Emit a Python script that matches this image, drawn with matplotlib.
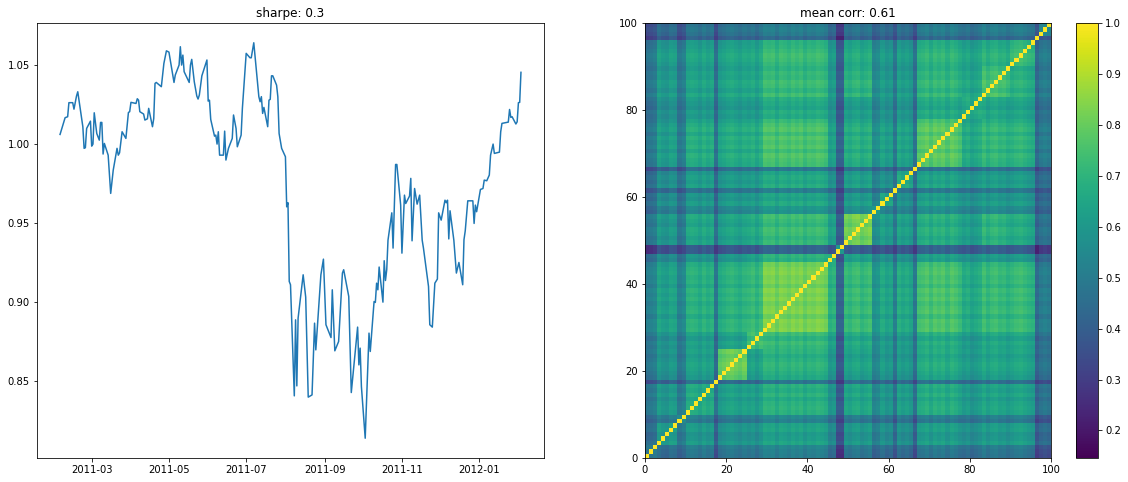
import numpy as np
import pandas as pd
import matplotlib
matplotlib.use("Agg")
import matplotlib.pyplot as plt
import matplotlib.dates as mdates

# --- line chart: days after 2011-03-01, and portfolio value
start_date = "2011-03-01"
days = [-25,-21,-19,-18,-15,-14,-12,-11,-7,-6,-5,-4,-1,0,1,2,4,6,7,8,9,10,13,15,17,20,21,22,24,27,
        29,30,31,35,36,37,38,41,42,44,45,48,49,50,51,55,57,59,61,65,66,69,70,71,72,73,77,78,79,81,
        83,84,85,87,91,92,93,94,97,98,99,100,101,104,105,106,108,111,112,114,115,118,119,122,125,126,128,132,133,134,
        135,136,139,140,141,142,143,146,147,148,150,153,154,155,156,157,160,161,162,163,167,169,171,174,176,177,181,183,185,189,
        190,192,195,198,199,203,205,210,211,212,213,216,219,220,223,224,225,226,227,230,231,232,233,234,237,238,240,241,244,245,
        247,248,251,252,253,255,257,259,261,262,266,267,269,271,273,274,276,279,280,281,282,283,286,288,290,293,294,295,297,301,
        302,303,304,307,309,310,312,314,315,317,318,322,323,324,329,330,331,332,335,336,337,338,339]
values = [1.0061,1.0167,1.0173,1.0262,1.0262,1.0221,1.0304,1.0331,1.011,.9973,.9977,1.0099,1.0145,.9987,1.000,1.0198,1.0067,1.0025,1.0137,1.0137,.9937,1.0004,.993,.9688,.9835,.9973,.993,.9945,1.0078,1.0036,
          1.020,1.0205,1.0264,1.0257,1.0287,1.0278,1.0205,1.019,1.0152,1.016,1.0226,1.011,1.0162,1.0384,1.039,1.0363,1.051,1.059,1.0582,1.039,1.0437,1.05,1.0616,1.05,1.0563,1.0458,1.039,1.05,1.0536,1.0395,
          1.0304,1.0285,1.031,1.0432,1.0532,1.0272,1.0278,1.0156,1.005,1.0057,1.000,1.0078,.993,.993,1.0082,.9899,.9973,1.0036,1.0184,1.0099,.9983,1.0057,1.0226,1.0574,1.0546,1.0546,1.0641,1.03,1.0268,1.03,
          1.0194,1.0232,1.011,1.0278,1.0283,1.0432,1.0432,1.0373,1.03,1.0067,.9973,.992,.9603,.9629,.9131,.911,.8407,.8888,.847,.8899,.9173,.9032,.8399,.8413,.8867,.8698,.9173,.9272,.8857,.8776,
          .9078,.8692,.8751,.9184,.9205,.9036,.8428,.8842,.8603,.8709,.8466,.8139,.8804,.8688,.9004,.8998,.912,.9078,.9222,.90,.9262,.9137,.9205,.9392,.9565,.9342,.9871,.9871,.9614,.931,
          .9677,.9624,.9671,.9783,.9388,.9719,.962,.9677,.9392,.9342,.9099,.8857,.8842,.912,.9146,.9565,.9519,.9645,.9629,.9645,.94,.9578,.9392,.9184,.9251,.911,.9395,.9451,.9641,.9641,
          .9498,.9614,.9572,.9713,.9719,.9772,.9768,.9804,.993,1.0,.9941,.9949,1.0078,1.0131,1.0139,1.0219,1.0169,1.0173,1.0127,1.0141,1.0262,1.0264,1.0454]
sharpe_title = "sharpe: 0.3"

corr_title = "mean corr: 0.61"
band_edges = [0,3,8,10,17,18,25,29,45,47,49,56,58,61,62,66,67,78,83,90,96,97,100]
band_upper = [
 [.52,.46,.44,.49,.36,.49,.49,.52,.47,.28,.49,.44,.46,.38,.46,.35,.49,.46,.49,.49,.32,.38],
 [.60,.49,.58,.40,.57,.57,.61,.55,.35,.58,.51,.56,.43,.56,.40,.60,.56,.59,.60,.38,.45],
 [.56,.49,.37,.48,.49,.52,.47,.32,.48,.44,.47,.37,.48,.35,.49,.47,.49,.49,.32,.38],
 [.63,.45,.60,.60,.65,.58,.37,.62,.53,.58,.45,.60,.44,.64,.58,.61,.61,.40,.47],
 [1.0,.42,.42,.46,.42,.28,.44,.40,.42,.34,.43,.32,.45,.42,.44,.44,.30,.35],
 [.78,.61,.66,.59,.36,.61,.53,.59,.46,.59,.44,.64,.59,.62,.62,.40,.47],
 [.72,.69,.63,.37,.64,.55,.60,.47,.60,.45,.65,.59,.63,.63,.40,.47],
 [.79,.68,.40,.69,.58,.63,.49,.64,.47,.72,.64,.69,.69,.42,.50],
 [.70,.37,.62,.54,.58,.45,.58,.44,.62,.58,.60,.60,.38,.45],
 [.60,.38,.35,.36,.30,.37,.28,.40,.37,.39,.38,.22,.30],
 [.79,.56,.60,.47,.61,.45,.65,.60,.67,.64,.40,.47],
 [.62,.53,.44,.53,.41,.56,.52,.55,.54,.37,.43],
 [.64,.46,.57,.43,.61,.57,.59,.59,.39,.45],
 [1.0,.46,.36,.47,.45,.47,.47,.33,.38],
 [.65,.44,.62,.58,.60,.60,.40,.46],
 [1.0,.45,.42,.45,.45,.30,.37],
 [.75,.64,.68,.67,.42,.50],
 [.65,.63,.62,.40,.47],
 [.72,.66,.42,.50],
 [.70,.42,.50],
 [1.0,.38],
 [.56],
]
# per-asset shift seen along rows and columns
asset_shift = [-.03,-.02,.00,.02,-.01,-.02,.02,.01,-.02,.01,
               .02,.03,.02,-.01,.03,.00,.02,.00,-.02,.00,
               .02,.03,.01,-.01,.02,.00,.02,-.02,.02,.03,
               .02,.03,-.01,.03,.02,.00,.03,.01,.03,-.01,
               .02,.01,.03,.02,.00,-.02,.00,.00,.00,.01,
               -.01,.02,.03,-.01,.01,.03,-.02,.00,.02,-.02,
               .00,.00,.02,-.01,.01,-.02,.00,.00,.01,.03,
               -.01,.03,.01,.03,-.01,.03,.01,-.02,.00,.02,
               -.02,.00,.02,.03,-.01,.02,.03,.00,.01,-.02,
               .00,.02,.03,.01,-.01,-.02,.00,-.02,.00,-.02]
corr_ticks = [.2,.3,.4,.5,.6,.7,.8,.9,1.0]
corr_min, corr_max = .146, 1.0

# --- build the matrix from the bands
n_bands = len(band_upper)
table = np.zeros((n_bands, n_bands))
for r, row in enumerate(band_upper):
    table[r, r:] = row
    table[r:, r] = row
band_of = np.repeat(np.arange(n_bands), np.diff(band_edges))
shift = np.array(asset_shift)
matrix = table[np.ix_(band_of, band_of)] + shift[:, None] + shift[None, :]
np.fill_diagonal(matrix, 1.0)

W, H, DPI = 1128, 482, 72
fig = plt.figure(figsize=(W / DPI, H / DPI), dpi=DPI)

def box(x0, y0, x1, y1):
    return [x0 / W, 1 - y1 / H, (x1 - x0) / W, (y1 - y0) / H]

ax = fig.add_axes(box(37, 23, 544, 458))
dates = pd.Timestamp(start_date) + pd.to_timedelta(days, unit="D")
ax.plot(dates, values, color="#1f77b4", lw=1.5)
ax.xaxis.set_major_locator(mdates.MonthLocator(bymonth=[1, 3, 5, 7, 9, 11]))
ax.xaxis.set_major_formatter(mdates.DateFormatter("%Y-%m"))
ax.set_yticks([.85, .90, .95, 1.0, 1.05])
ax.set_yticklabels(["0.85", "0.90", "0.95", "1.00", "1.05"])
ax.set_title(sharpe_title, fontsize=12)

ax2 = fig.add_axes(box(645, 23, 1051, 458))
mesh = ax2.pcolormesh(np.arange(101), np.arange(101), matrix, cmap="viridis",
                      vmin=corr_min, vmax=corr_max)
ax2.set_xticks(range(0, 101, 20))
ax2.set_yticks(range(0, 101, 20))
ax2.set_title(corr_title, fontsize=12)

cax = fig.add_axes(box(1076, 23, 1098, 458))
cb = fig.colorbar(mesh, cax=cax)
cb.set_ticks(corr_ticks)

fig.savefig("out.png", dpi=DPI)
